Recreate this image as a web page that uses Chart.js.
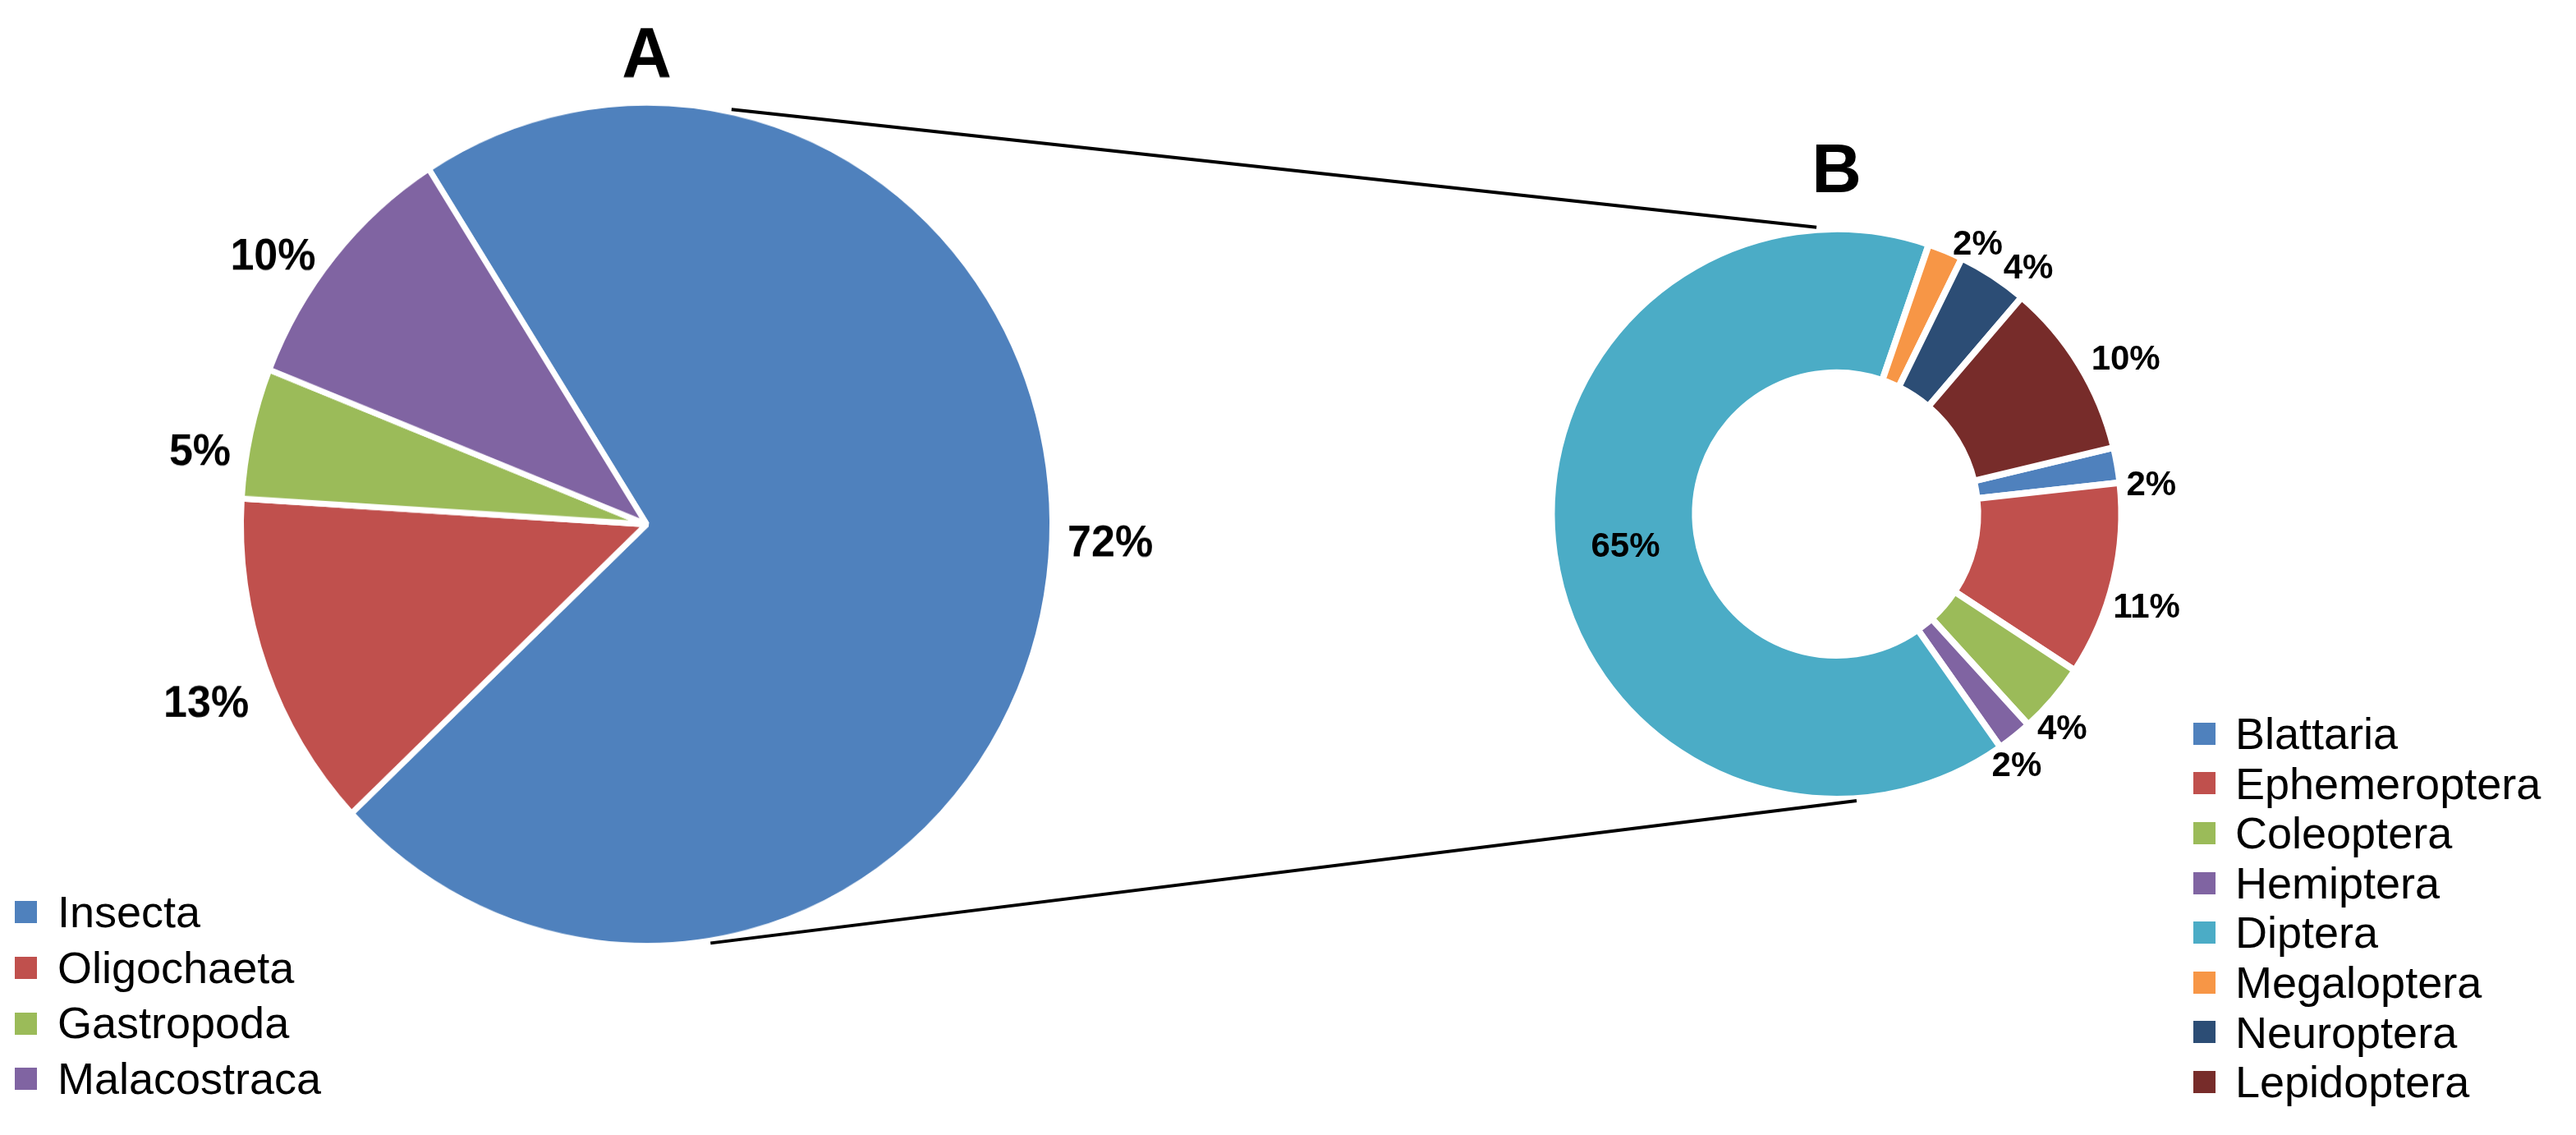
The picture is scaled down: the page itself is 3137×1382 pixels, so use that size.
<!DOCTYPE html>
<html lang="en">
<head>
<meta charset="utf-8">
<title>Pie of pie</title>
<script src="https://cdn.jsdelivr.net/npm/chart.js@4.4.0/dist/chart.umd.min.js"></script>
<style>
  body { margin: 0; background: #fff; width: 3137px; height: 1382px; position: relative; overflow: hidden;
         font-family: "Liberation Sans", Arial, sans-serif; }
  /* the left pie is a little taller than wide in the original */
  #wrapA { position: absolute; left: 0; top: 0; transform: scaleY(1.039); transform-origin: 0 0; }
  #chartB { position: absolute; left: 0; top: 0; }
  .legend { position: absolute; font-size: 54px; color: #000; }
  .legend .row { display: flex; align-items: center; white-space: nowrap; }
  .legend .sw { display: inline-block; width: 27px; height: 27px; flex: none; }
</style>
</head>
<body>

<div id="wrapA"><canvas id="chartA" width="1575" height="1330"></canvas></div>
<canvas id="chartB" width="3137" height="1382"></canvas>
<div class="legend" id="legendA" style="left:18px; top:1077px;"></div>
<div class="legend" id="legendB" style="left:2671px; top:863px;"></div>

<script>
// pie A: main groups
var groupLabels = ['Insecta', 'Oligochaeta', 'Gastropoda', 'Malacostraca'];
var groupValues = [72, 13, 5, 10];
var groupColors = ['#4F81BD', '#C0504D', '#9BBB59', '#8064A2'];

// doughnut B: insect orders
var orderLabels = ['Blattaria', 'Ephemeroptera', 'Coleoptera', 'Hemiptera', 'Diptera', 'Megaloptera', 'Neuroptera', 'Lepidoptera'];
var orderValues = [2, 11, 4, 2, 65, 2, 4, 10];
var orderColors = ['#4F81BD', '#C0504D', '#9BBB59', '#8064A2', '#4BACC6', '#F79646', '#2C4D75', '#772C2A'];

var FONT = '"Liberation Sans", Arial, sans-serif';
var stretchA = 1.039;

// percent labels around the slices
var pctLabels = {
  id: 'pctLabels',
  afterDatasetsDraw: function(chart, args, opts) {
    var ctx = chart.ctx;
    var meta = chart.getDatasetMeta(0);
    var values = chart.data.datasets[0].data;
    var capH = opts.size * 0.716;
    var nudge = opts.nudge || {};
    ctx.save();
    ctx.font = 'bold ' + opts.size + 'px ' + FONT;
    ctx.fillStyle = '#000';
    ctx.textAlign = 'center';
    ctx.textBaseline = 'alphabetic';
    meta.data.forEach(function(arc, i) {
      var text = values[i] + '%';
      var w = ctx.measureText(text).width;
      var mid = (arc.startAngle + arc.endAngle) / 2;
      var x, y;
      if (opts.inside.indexOf(i) >= 0) {
        var r = (arc.innerRadius + arc.outerRadius) / 2;
        x = arc.x + Math.cos(mid) * r;
        y = arc.y + Math.sin(mid) * r;
      } else {
        var a = mid + opts.shift * Math.PI / 180;
        var ux = Math.cos(a), uy = Math.sin(a);
        var d = arc.outerRadius + opts.gap;
        x = arc.x + ux * d + ux * w / 2;
        y = arc.y + uy * d + uy * capH / 2;
      }
      if (nudge[i]) { x += nudge[i][0]; y += nudge[i][1]; }
      ctx.fillText(text, x, y + capH / 2);
    });
    ctx.restore();
  }
};

// the two black lines joining pie A to doughnut B
var connector = {
  id: 'connector',
  afterDraw: function(chart, args, opts) {
    var a = chartA.getDatasetMeta(0).data[0];
    var b = chart.getDatasetMeta(0).data[0];
    var ctx = chart.ctx;
    ctx.save();
    ctx.strokeStyle = '#000';
    ctx.lineWidth = 4;
    opts.lines.forEach(function(l) {
      var t1 = l[0] * Math.PI / 180, t2 = l[1] * Math.PI / 180;
      var ra = a.outerRadius + opts.gap, rb = b.outerRadius + opts.gap;
      ctx.beginPath();
      ctx.moveTo(a.x + Math.sin(t1) * ra, (a.y - Math.cos(t1) * ra) * stretchA);
      ctx.lineTo(b.x + Math.sin(t2) * rb, b.y - Math.cos(t2) * rb);
      ctx.stroke();
    });
    ctx.restore();
  }
};

var chartA = new Chart(document.getElementById('chartA'), {
  type: 'pie',
  data: {
    labels: groupLabels,
    datasets: [{ data: groupValues, backgroundColor: groupColors, borderColor: '#fff', borderWidth: 7 }]
  },
  options: {
    responsive: false,
    animation: false,
    rotation: -32.5,
    radius: 494,
    layout: { padding: { left: 0, right: 0, top: 0, bottom: 219 } },
    plugins: {
      legend: { display: false },
      tooltip: { enabled: false },
      title: { display: true, text: 'A', color: '#000', font: { family: FONT, size: 84, weight: 'bold' }, padding: { top: 17, bottom: 0 } },
      pctLabels: { size: 52, gap: 20, shift: -3, inside: [], nudge: { 0: [0, -19], 1: [-15, 0] } }
    }
  },
  plugins: [pctLabels]
});

var chartB = new Chart(document.getElementById('chartB'), {
  type: 'doughnut',
  data: {
    labels: orderLabels,
    datasets: [{ data: orderValues, backgroundColor: orderColors, borderColor: '#fff', borderWidth: 8 }]
  },
  options: {
    responsive: false,
    animation: false,
    rotation: 76.5,
    radius: 347,
    cutout: '49.6%',
    layout: { padding: { left: 1336, right: 0, top: 0, bottom: 391 } },
    plugins: {
      legend: { display: false },
      tooltip: { enabled: false },
      title: { display: true, text: 'B', color: '#000', font: { family: FONT, size: 84, weight: 'bold' }, padding: { top: 160, bottom: 0 } },
      pctLabels: { size: 42, gap: 8, shift: 4, inside: [4], nudge: { 6: [0, -8], 7: [0, -20] } },
      connector: { gap: 3, lines: [[12, -4], [171, 176]] }
    }
  },
  plugins: [pctLabels, connector]
});

// html legends
function makeLegend(id, labels, colors, pitch, gap) {
  var box = document.getElementById(id);
  labels.forEach(function(name, i) {
    var row = document.createElement('div');
    row.className = 'row';
    row.style.height = pitch + 'px';
    row.style.lineHeight = pitch + 'px';
    var sw = document.createElement('span');
    sw.className = 'sw';
    sw.style.background = colors[i];
    sw.style.marginRight = gap + 'px';
    row.appendChild(sw);
    row.appendChild(document.createTextNode(name));
    box.appendChild(row);
  });
}
makeLegend('legendA', groupLabels, groupColors, 67.7, 25);
makeLegend('legendB', orderLabels, orderColors, 60.6, 24);
</script>
</body>
</html>
